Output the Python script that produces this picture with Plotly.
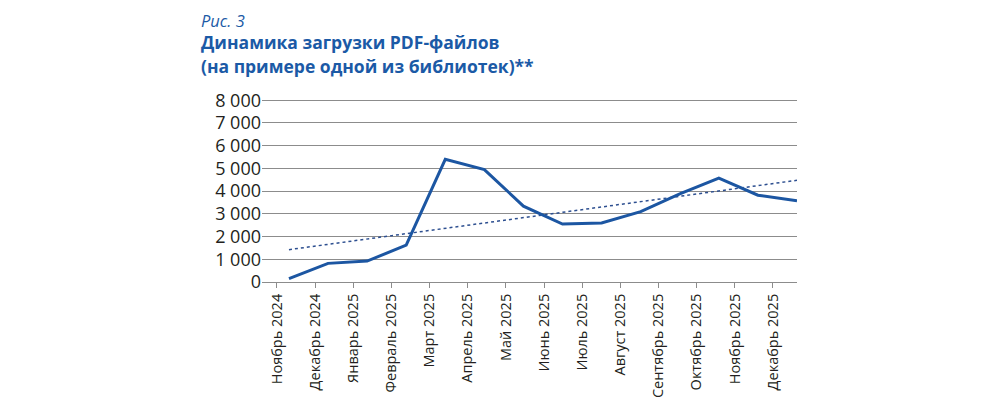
import numpy as np
import plotly.graph_objs as go

# Months shown on the category axis
months = [
    "Ноябрь 2024", "Декабрь 2024", "Январь 2025", "Февраль 2025",
    "Март 2025", "Апрель 2025", "Май 2025", "Июнь 2025", "Июль 2025",
    "Август 2025", "Сентябрь 2025", "Октябрь 2025", "Ноябрь 2025",
    "Декабрь 2025",
]

# PDF downloads per month
downloads = [150, 820, 920, 1620, 5400, 4950, 3340, 2550, 2600, 3100,
             3880, 4570, 3820, 3580]

y_ticks = [0, 1000, 2000, 3000, 4000, 5000, 6000, 7000, 8000]

fig_label = "Рис. 3"
title_lines = ["Динамика загрузки PDF-файлов",
               "(на примере одной из библиотек)**"]

LINE_COLOR = "#1c56a2"
TREND_COLOR = "#2d4f90"
TITLE_COLOR = "#1b5aa6"
GRID_COLOR = "#8c8c8c"
TEXT_COLOR = "#231f20"
FONT = "Open Sans"

# linear trend over the monthly values
idx = np.arange(len(downloads))
slope, intercept = np.polyfit(idx, downloads, 1)
trend = slope * idx + intercept

fig = go.Figure()

# empty trace so the category axis gets drawn
fig.add_trace(go.Scatter(x=months, y=[None] * len(months), xaxis="x",
                         showlegend=False, hoverinfo="skip"))

fig.add_trace(go.Scatter(
    x=idx, y=trend, xaxis="x2", mode="lines",
    line=dict(color=TREND_COLOR, width=1.5, dash="dot"),
    showlegend=False,
))
fig.add_trace(go.Scatter(
    x=idx, y=downloads, xaxis="x2", mode="lines",
    line=dict(color=LINE_COLOR, width=3),
    showlegend=False,
))

# the page body adds an 8px offset, margins below account for it
fig.update_layout(
    width=1000, height=406,
    margin=dict(l=254, r=211, t=90, b=132),
    paper_bgcolor="white", plot_bgcolor="white",
    separators=", ",
    font=dict(family=FONT, color=TEXT_COLOR),
    xaxis=dict(
        type="category", range=[-0.39, 13.63], automargin=False,
        showgrid=False, showline=True, linecolor=GRID_COLOR, linewidth=1,
        ticks="outside", ticklen=5, tickcolor=GRID_COLOR,
        tickangle=-90, tickfont=dict(size=14.5, color=TEXT_COLOR),
        zeroline=False,
    ),
    xaxis2=dict(
        overlaying="x", range=[-0.69, 13.0], visible=False,
    ),
    yaxis=dict(
        range=[0, 8100], tickvals=y_ticks, tickformat=",d",
        automargin=False,
        showgrid=True, gridcolor=GRID_COLOR, gridwidth=1,
        zeroline=False, showline=False, ticks="",
        tickfont=dict(size=18, color=TEXT_COLOR),
    ),
)

# caption block above the plot
fig.add_annotation(
    text=f"<i>{fig_label}</i>", xref="paper", yref="paper",
    x=-0.116, y=1.487, xanchor="left", yanchor="top", showarrow=False,
    borderpad=0,
    font=dict(size=16.5, color=TITLE_COLOR, family=FONT),
)
for i, line in enumerate(title_lines):
    fig.add_annotation(
        text=f"<b>{line}</b>", xref="paper", yref="paper",
        x=-0.116, y=1.302 - i * 0.13, xanchor="left", yanchor="middle",
        showarrow=False, borderpad=0,
        font=dict(size=17.5, color=TITLE_COLOR, family=FONT),
    )

fig.write_html("out.html")
